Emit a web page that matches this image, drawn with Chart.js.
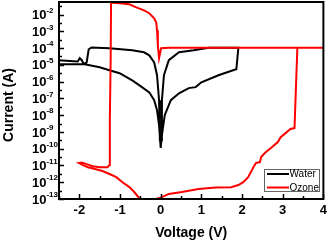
<!DOCTYPE html>
<html>
<head>
<meta charset="utf-8">
<script src="https://cdn.jsdelivr.net/npm/chart.js@4.4.1/dist/chart.umd.min.js"></script>
<style>
  html, body { margin: 0; padding: 0; background: #fff; }
  #wrap { width: 331px; height: 242px; }
</style>
</head>
<body>
<div id="wrap"><canvas id="ivChart" width="331" height="242"></canvas></div>
<script>
// I-V loops (log current) for the water and ozone treated devices

// Water: lower-left branch, upper-left branch, upper-right, lower-right
const waterVoltage = [
  0.00, -0.04, -0.09, -0.16, -0.28, -0.53, -0.70, -1.01, -1.26, -1.50, -1.87, -2.50,
  -2.50, -2.23, -2.04, -1.99, -1.94, -1.89, -1.82, -1.77, -1.70, -1.26, -0.70, -0.41, -0.28, -0.16, -0.09, -0.04, -0.02,
  0.01, 0.03, 0.08, 0.20, 0.45, 0.81, 1.18, 1.91,
  1.86, 1.78, 1.42, 1.00, 0.86, 0.69, 0.45, 0.25, 0.10, 0.03, 0.00
]
const waterCurrent = [
  1.1e-10, 2.5e-9, 2.0e-8, 7.8e-8, 2.3e-7, 6.2e-7, 1.2e-6, 3.2e-6, 4.8e-6, 7.2e-6, 1.1e-5, 1.1e-5,
  1.9e-5, 1.7e-5, 1.6e-5, 2.5e-5, 1.9e-5, 1.1e-5, 1.4e-5, 8.5e-5, 1.1e-4, 9.8e-5, 7.4e-5, 5.6e-5, 3.7e-5, 1.4e-5, 2.4e-6, 7.8e-8, 3.2e-10,
  3.2e-10, 7.8e-8, 2.4e-6, 1.9e-5, 5.6e-5, 7.4e-5, 1.05e-4, 1.05e-4,
  5.5e-6, 4.8e-6, 2.4e-6, 9.1e-7, 4.7e-7, 4.1e-7, 2.0e-7, 7.8e-8, 1.0e-8, 6.5e-10, 1.1e-10
]

// Ozone: negative sweep, set at -1.25 V, compliance at 1e-4, reset near 3.3 V
const ozoneVoltage = [
  -0.40, -0.53, -0.65, -0.77, -0.94, -1.09, -1.26, -1.43, -1.62, -1.79, -1.91, -2.01,
  -1.94, -1.82, -1.67, -1.50, -1.31, -1.26, -1.25, -1.23, -1.22,
  -1.18, -1.01, -0.77, -0.60, -0.41, -0.28, -0.16, -0.11, -0.09, -0.07, -0.04, -0.02,
  0.01, 0.20, 4.00, 3.36, 3.29, 3.19, 3.07, 2.95, 2.88, 2.71, 2.56, 2.47, 2.44, 2.34,
  2.27, 2.15, 2.03, 1.91, 1.73, 1.35, 0.93, 0.52, 0.20, 0.03, -0.11, -0.25
]
const ozoneCurrent = [
  5.0e-14, 1.15e-13, 2.6e-13, 5.1e-13, 1.0e-12, 2.0e-12, 3.1e-12, 4.7e-12, 6.2e-12, 7.9e-12, 1.05e-11, 1.4e-11,
  1.5e-11, 1.2e-11, 9.1e-12, 7.9e-12, 7.9e-12, 1.05e-11, 5.0e-9, 1.9e-5, 7.9e-2,
  5.0e-2, 4.7e-2, 4.1e-2, 2.7e-2, 1.8e-2, 1.2e-2, 5.9e-3, 3.5e-3, 1.15e-3, 1.5e-4, 2.5e-5, 2.5e-5,
  9.8e-5, 1.05e-4, 1.05e-4, 1.05e-4, 1.7e-9, 1.5e-9, 8.5e-10, 4.9e-10, 2.5e-10, 1.1e-10, 5.5e-11, 3.2e-11, 1.6e-11, 1.4e-11,
  7.1e-12, 2.0e-12, 1.0e-12, 6.8e-13, 5.1e-13, 4.8e-13, 4.0e-13, 2.6e-13, 2.0e-13, 1.3e-13, 1.0e-13, 6.3e-14
]

// axis ticks
const xTickValues = [-2, -1, 0, 1, 2, 3, 4]
const yTickExponents = [-2, -3, -4, -5, -6, -7, -8, -9, -10, -11, -12, -13]

const FONT = "'Liberation Sans', Arial, sans-serif"

function toPoints(xs, ys) {
  return xs.map((v, i) => ({ x: v, y: ys[i] }))
}

// frame, inward ticks, y labels, axis titles and the boxed legend
const decorPlugin = {
  id: "decor",
  afterDraw(chart) {
    const { ctx, chartArea: a, scales } = chart
    const x = scales.x
    const y = scales.y
    ctx.save()

    // inward tick marks
    ctx.strokeStyle = "#000"
    ctx.lineWidth = 1.5
    ctx.beginPath()
    for (let v = -2.5; v <= 4.001; v += 0.5) {
      const px = Math.round(x.getPixelForValue(v)) + 0.5
      const len = Number.isInteger(v) ? 5 : 3
      ctx.moveTo(px, a.bottom)
      ctx.lineTo(px, a.bottom - len)
    }
    yTickExponents.forEach((e) => {
      const py = Math.round(y.getPixelForValue(Math.pow(10, e))) + 0.5
      ctx.moveTo(a.left, py)
      ctx.lineTo(a.left + 5, py)
      const pm = Math.round(y.getPixelForValue(Math.pow(10, e + 0.5))) + 0.5
      if (pm > a.top + 2) {
        ctx.moveTo(a.left, pm)
        ctx.lineTo(a.left + 3, pm)
      }
    })
    ctx.stroke()

    // plot frame
    ctx.lineWidth = 2
    ctx.strokeRect(a.left, a.top, a.right - a.left, a.bottom - a.top)

    // y tick labels as 10 with a superscript exponent
    ctx.fillStyle = "#000"
    ctx.textAlign = "left"
    ctx.textBaseline = "middle"
    yTickExponents.forEach((e) => {
      const py = y.getPixelForValue(Math.pow(10, e))
      ctx.font = "bold 13px " + FONT
      ctx.fillText("10", 32, py + 1)
      const w = ctx.measureText("10").width
      ctx.font = "bold 8px " + FONT
      ctx.fillText(String(e), 32 + w, py - 4)
    })

    // axis titles
    ctx.font = "bold 14px " + FONT
    ctx.textAlign = "center"
    ctx.fillText("Voltage (V)", (a.left + a.right) / 2, 233)
    ctx.save()
    ctx.translate(9, 105)
    ctx.rotate(-Math.PI / 2)
    ctx.fillText("Current (A)", 0, 0)
    ctx.restore()

    // legend box
    ctx.fillStyle = "#fff"
    ctx.fillRect(264, 169, 56, 23)
    ctx.strokeStyle = "#666"
    ctx.lineWidth = 1
    ctx.strokeRect(264.5, 169.5, 55, 22)
    ctx.font = "10px " + FONT
    ctx.textAlign = "left"
    ctx.fillStyle = "#000"
    ;["Water", "Ozone"].forEach((name, i) => {
      const ds = chart.data.datasets.find((d) => d.label === name)
      const ly = 174 + i * 13.5
      ctx.strokeStyle = ds.borderColor
      ctx.lineWidth = 2
      ctx.beginPath()
      ctx.moveTo(267, ly)
      ctx.lineTo(289, ly)
      ctx.stroke()
      ctx.fillText(name, 289.5, ly + 0.5)
    })

    ctx.restore()
  },
}

const config = {
  type: "line",
  data: {
    datasets: [
      {
        label: "Water",
        data: toPoints(waterVoltage, waterCurrent),
        borderColor: "#000000",
        borderWidth: 2,
        pointRadius: 0,
        tension: 0,
        fill: false,
        order: 1,
      },
      {
        label: "Ozone",
        data: toPoints(ozoneVoltage, ozoneCurrent),
        borderColor: "#ff0000",
        borderWidth: 2,
        pointRadius: 0,
        tension: 0,
        fill: false,
        order: 0,
      },
    ],
  },
  options: {
    responsive: false,
    animation: false,
    devicePixelRatio: 1,
    layout: { padding: { top: 2, right: 5, left: 0, bottom: 0 } },
    plugins: {
      legend: { display: false },
      tooltip: { enabled: false },
    },
    scales: {
      x: {
        type: "linear",
        min: -2.5,
        max: 4,
        grid: { display: false, drawTicks: false },
        border: { display: false },
        afterBuildTicks: (axis) => {
          axis.ticks = xTickValues.map((v) => ({ value: v }))
        },
        afterFit: (axis) => {
          axis.height = 43
        },
        ticks: {
          autoSkip: false,
          maxRotation: 0,
          padding: 4,
          color: "#000",
          font: { family: FONT, size: 13, weight: "bold" },
        },
      },
      y: {
        type: "logarithmic",
        min: 1e-13,
        max: 0.0562,
        grid: { display: false, drawTicks: false },
        border: { display: false },
        ticks: { display: false },
        afterFit: (axis) => {
          axis.width = 59
        },
      },
    },
  },
  plugins: [decorPlugin],
}

new Chart(document.getElementById("ivChart"), config)
</script>
</body>
</html>
